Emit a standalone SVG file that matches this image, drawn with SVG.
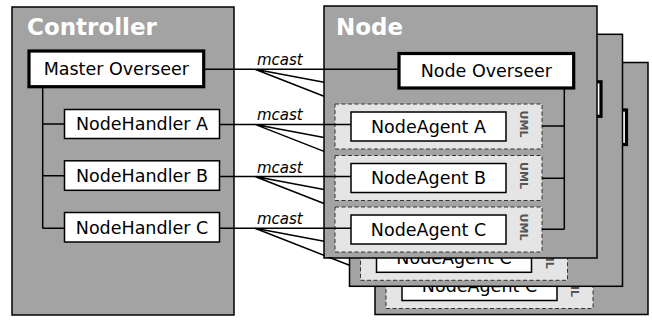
<svg xmlns="http://www.w3.org/2000/svg" width="652" height="320" viewBox="0 0 652 320">
  <style>
    .frame { fill: #a3a3a3; stroke: #000; stroke-width: 1.5; }
    .title { font-family: "DejaVu Sans", sans-serif; font-weight: bold; font-size: 23px; fill: #fff; }
    .box { fill: #fff; stroke: #000; stroke-width: 1.5; }
    .box.main { stroke-width: 3.2; }
    .label { font-family: "DejaVu Sans", sans-serif; font-size: 17.5px; fill: #000; text-anchor: middle; }
    .uml { fill: #e5e5e5; stroke: #333; stroke-width: 1; stroke-dasharray: 4 2.5; }
    .uml-tag { font-family: "DejaVu Sans", sans-serif; font-weight: bold; font-size: 11px; fill: #555; text-anchor: middle; }
    .wire { fill: none; stroke: #000; stroke-width: 1.5; }
    .mcast { font-family: "DejaVu Sans", sans-serif; font-style: italic; font-size: 15px; fill: #000; }
  </style>
  <defs>
    <!-- everything except the interior of the front node -->
    <clipPath id="outside-front">
      <path clip-rule="evenodd" d="M0 0H652V320H0Z M325 7H596V257H325Z"/>
    </clipPath>
  </defs>

  <!-- Controller -->
  <g id="controller">
    <rect class="frame" x="12" y="7" width="222" height="308"/>
    <text class="title" x="27" y="35">Controller</text>
    <g id="master-overseer">
      <rect class="box main" x="29" y="51" width="174.7" height="35.7"/>
      <text class="label" x="116.3" y="75.3">Master Overseer</text>
    </g>
    <g id="nodehandler-a">
      <rect class="box" x="64.5" y="109.5" width="155" height="29"/>
      <text class="label" x="142" y="130.4">NodeHandler A</text>
    </g>
    <g id="nodehandler-b">
      <rect class="box" x="64.5" y="160.8" width="155" height="29.5"/>
      <text class="label" x="142" y="181.9">NodeHandler B</text>
    </g>
    <g id="nodehandler-c">
      <rect class="box" x="64.5" y="212.5" width="155" height="29.5"/>
      <text class="label" x="142" y="233.6">NodeHandler C</text>
    </g>
  </g>

  <!-- Rearmost node (only its visible parts) -->
  <g id="node-3" transform="translate(51,56.5)">
    <rect class="frame" x="324" y="6" width="273" height="252"/>
    <rect class="box main" x="399" y="53.5" width="176.5" height="34.5"/>
    <rect class="uml" x="335" y="207" width="207" height="45"/>
    <rect class="box" x="351" y="215" width="155" height="29"/>
    <text class="label" x="428.5" y="235.9">NodeAgent C</text>
    <text class="uml-tag" transform="translate(520,227) rotate(90)">UML</text>
  </g>

  <!-- Middle node (only its visible parts) -->
  <g id="node-2" transform="translate(25.5,28.3)">
    <rect class="frame" x="324" y="6" width="273" height="252"/>
    <rect class="box main" x="399" y="53.5" width="176.5" height="34.5"/>
    <rect class="uml" x="335" y="207" width="207" height="45"/>
    <rect class="box" x="351" y="215" width="155" height="29"/>
    <text class="label" x="428.5" y="235.9">NodeAgent C</text>
    <text class="uml-tag" transform="translate(520,227) rotate(90)">UML</text>
  </g>

  <!-- Front node -->
  <g id="node-1">
    <rect class="frame" x="324" y="6" width="273" height="252"/>
    <text class="title" x="336" y="35">Node</text>
    <g id="node-overseer">
      <rect class="box main" x="399" y="53.5" width="174.7" height="34.5"/>
      <text class="label" x="486.3" y="77">Node Overseer</text>
    </g>
    <g id="nodeagent-a">
      <rect class="uml" x="335" y="104" width="207" height="45"/>
      <rect class="box" x="351" y="112" width="155" height="29"/>
      <text class="label" x="428.5" y="132.9">NodeAgent A</text>
      <text class="uml-tag" transform="translate(520,124) rotate(90)">UML</text>
    </g>
    <g id="nodeagent-b">
      <rect class="uml" x="335" y="155.5" width="207" height="45"/>
      <rect class="box" x="351" y="163.5" width="155" height="29"/>
      <text class="label" x="428.5" y="184.4">NodeAgent B</text>
      <text class="uml-tag" transform="translate(520,175.5) rotate(90)">UML</text>
    </g>
    <g id="nodeagent-c">
      <rect class="uml" x="335" y="207" width="207" height="45"/>
      <rect class="box" x="351" y="215" width="155" height="29"/>
      <text class="label" x="428.5" y="235.9">NodeAgent C</text>
      <text class="uml-tag" transform="translate(520,227) rotate(90)">UML</text>
    </g>
  </g>

  <!-- Connectors -->
  <g id="connectors" class="wire">
    <!-- controller tree -->
    <path d="M42.7 86.7V228.3 M42.7 124H64.5 M42.7 175.7H64.5 M42.7 228.3H64.5"/>
    <!-- multicast links -->
    <path d="M203.7 69.3H399 M255 69.3L324 82.3 M255 69.3L324 96.3"/>
    <path d="M219.5 124.4H351 M255 124.4L324 137.4 M255 124.4L324 151.4"/>
    <path d="M219.5 176.5H351 M255 176.5L324 189.5 M255 176.5L324 203.5"/>
    <path d="M219.5 228.3H351 M255 228.3L324 241.3"/>
    <path d="M255 228.3L349.5 265.3" clip-path="url(#outside-front)"/>
    <!-- node-side bus -->
    <path d="M564.3 88V229.3 M542 126H564.3 M542 178.3H564.3 M542 229.3H564.3"/>
  </g>
  <g id="link-labels" class="mcast">
    <text x="257" y="64.5">mcast</text>
    <text x="257" y="120">mcast</text>
    <text x="257" y="172.5">mcast</text>
    <text x="257" y="224">mcast</text>
  </g>
</svg>
